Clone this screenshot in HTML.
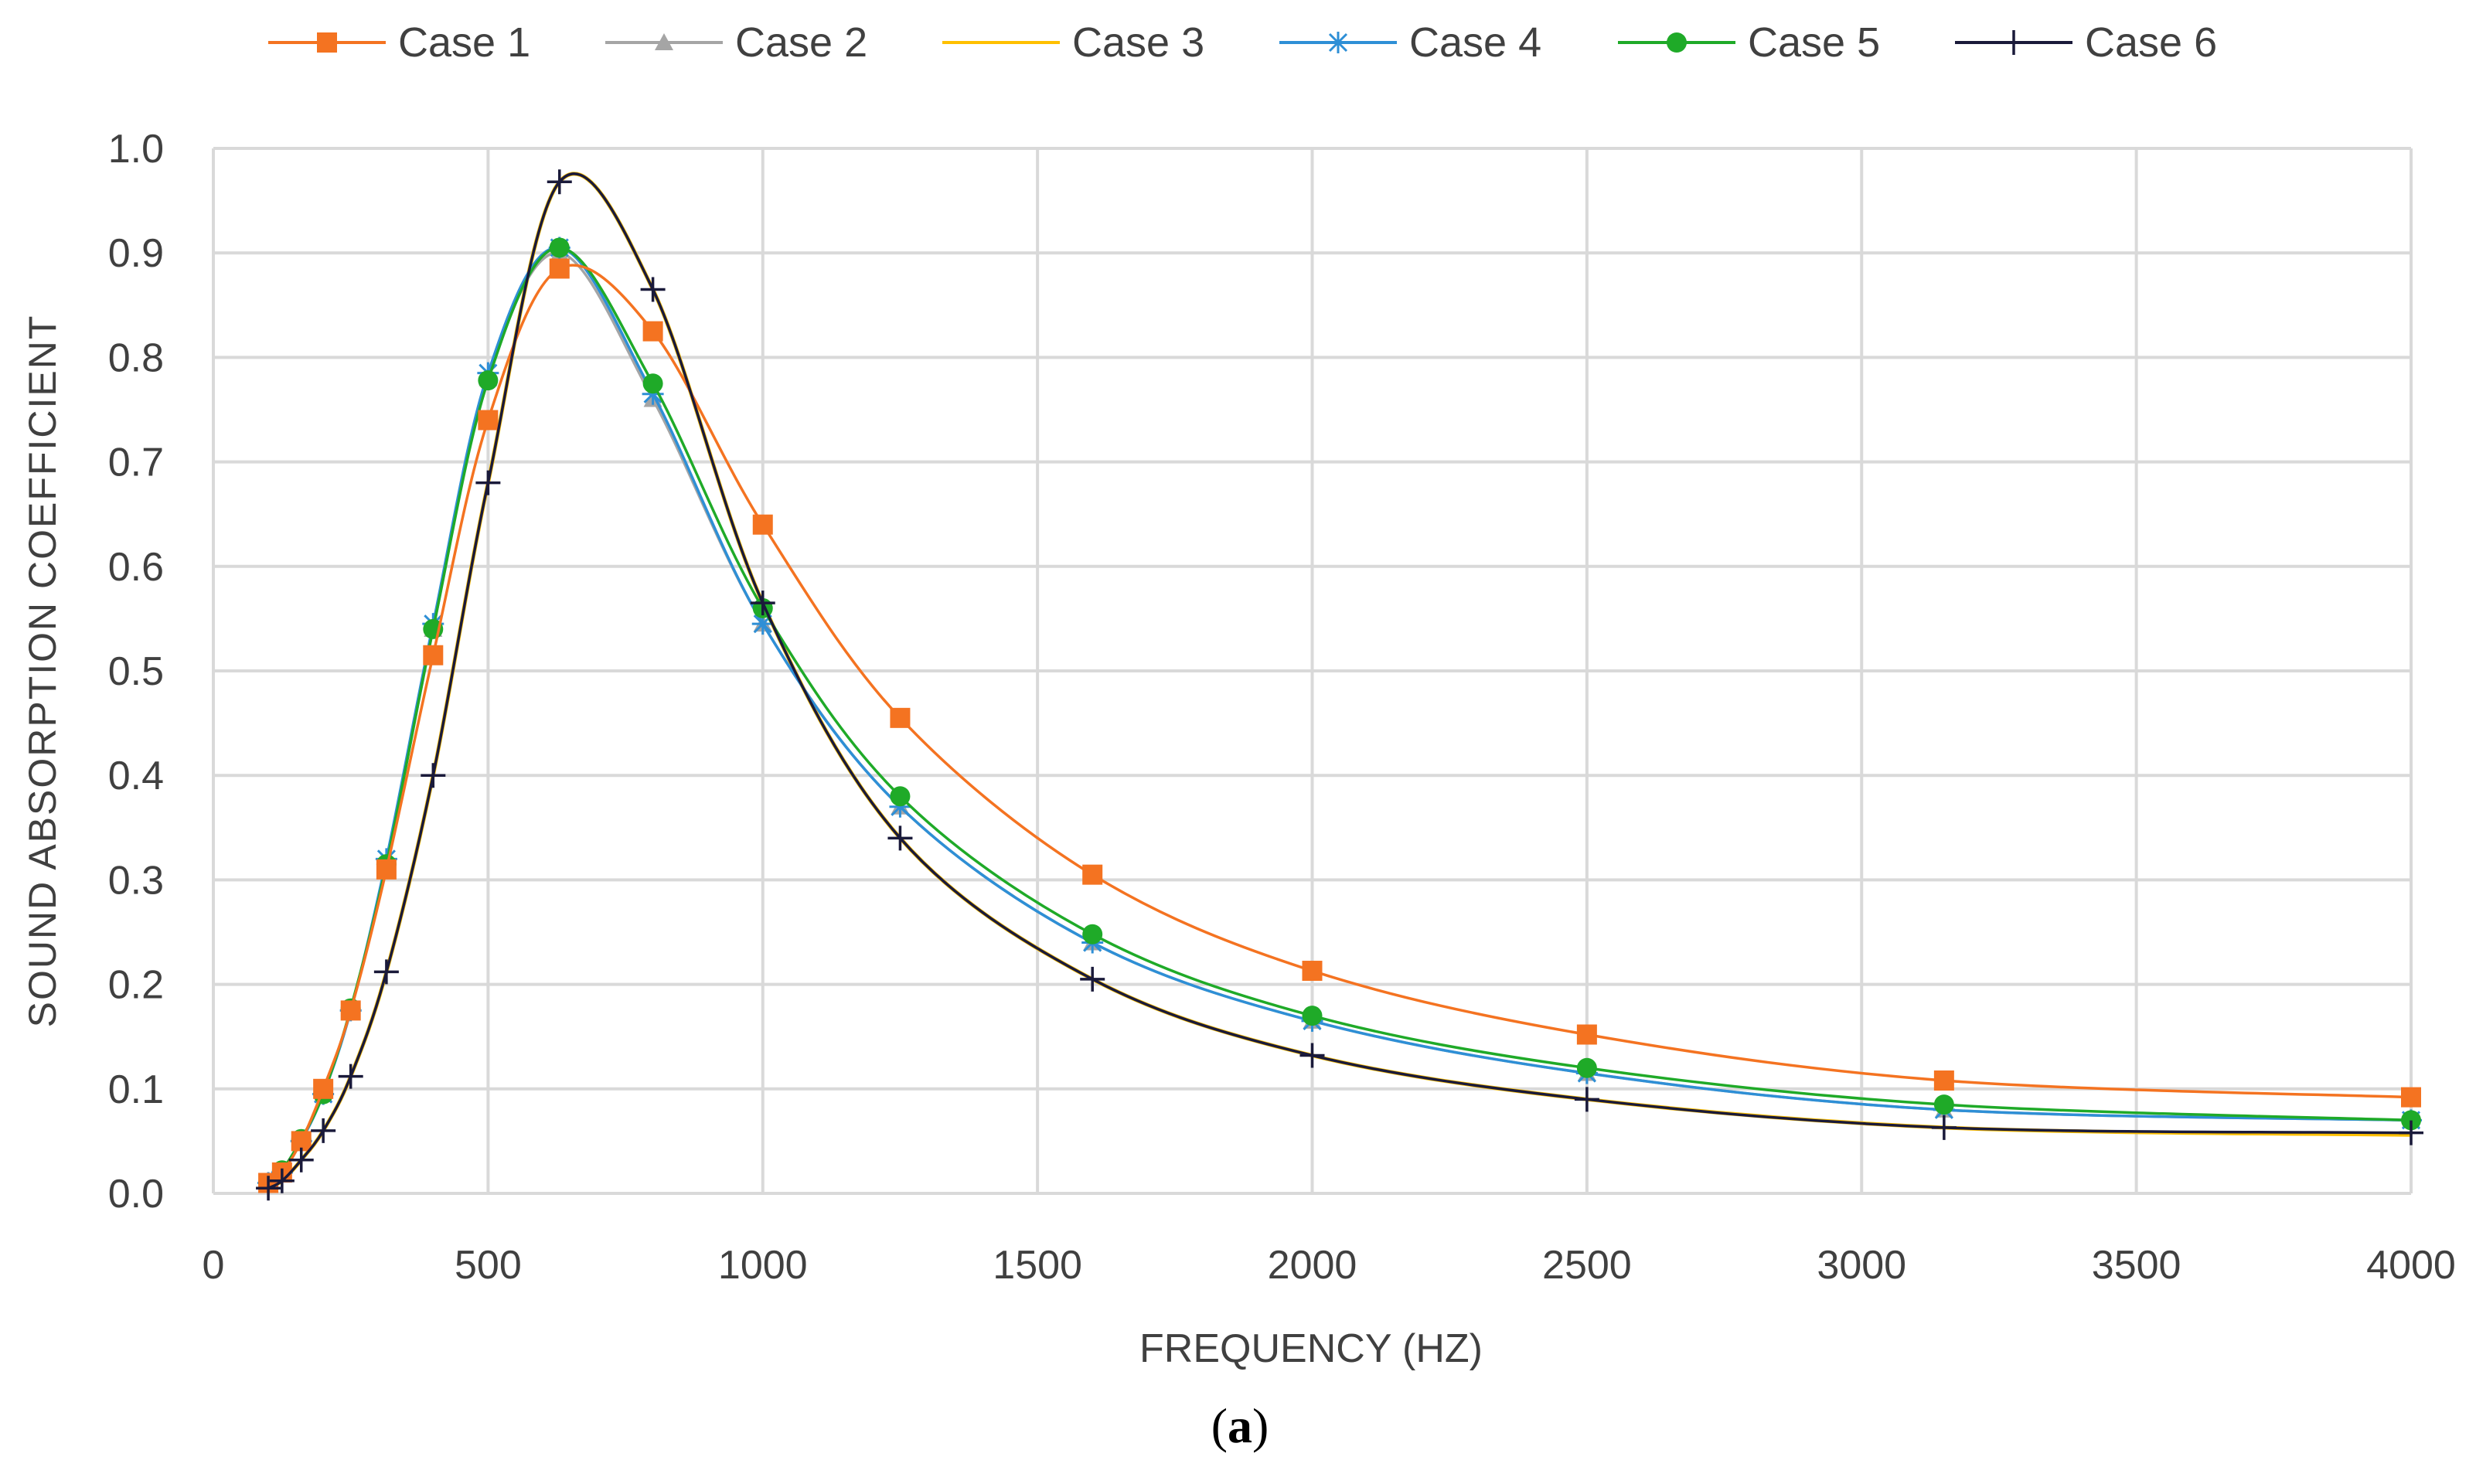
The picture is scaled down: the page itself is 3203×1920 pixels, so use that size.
<!DOCTYPE html>
<html><head><meta charset="utf-8"><style>
html,body{margin:0;padding:0;background:#fff;}
svg{display:block;}
text{font-family:"Liberation Sans","DejaVu Sans",sans-serif;fill:#404040;}
</style></head><body>
<svg id="chart" width="3203" height="1920" viewBox="0 0 3203 1920" xmlns="http://www.w3.org/2000/svg">
<g id="grid"></g>
<g id="series"></g>
<g id="axes"></g>
<g id="legend"></g>
<text x="1696" y="1762" font-size="52" text-anchor="middle">FREQUENCY (HZ)</text>
<text transform="translate(72,868) rotate(-90)" font-size="50" text-anchor="middle" letter-spacing="2">SOUND ABSORPTION COEFFICIENT</text>
<text x="1604" y="1866" font-size="64" text-anchor="middle" style="font-family:'Liberation Serif',serif;fill:#000">(<tspan font-weight="bold">a</tspan>)</text>
</svg>
<script>
const freqs = [100,125,160,200,250,315,400,500,630,800,1000,1250,1600,2000,2500,3150,4000];
const case1 = [0.01,0.02,0.05,0.10,0.175,0.31,0.515,0.74,0.885,0.825,0.64,0.455,0.305,0.213,0.152,0.108,0.092];
const case2 = [0.01,0.02,0.05,0.095,0.175,0.315,0.54,0.78,0.90,0.76,0.545,0.37,0.24,0.165,0.115,0.08,0.07];
const case3 = [0.005,0.012,0.032,0.06,0.112,0.212,0.40,0.68,0.968,0.865,0.565,0.34,0.205,0.132,0.09,0.063,0.056];
const case4 = [0.01,0.02,0.05,0.095,0.175,0.32,0.545,0.785,0.905,0.765,0.545,0.37,0.24,0.165,0.115,0.08,0.07];
const case5 = [0.01,0.022,0.052,0.095,0.177,0.315,0.54,0.778,0.905,0.775,0.56,0.38,0.248,0.17,0.12,0.085,0.07];
const case6 = [0.005,0.012,0.032,0.06,0.112,0.212,0.40,0.68,0.968,0.865,0.565,0.34,0.205,0.132,0.09,0.063,0.058];
const seriesNames = ["Case 1","Case 2","Case 3","Case 4","Case 5","Case 6"];
const xTicks = [0,500,1000,1500,2000,2500,3000,3500,4000];
const yTicks = [0,0.1,0.2,0.3,0.4,0.5,0.6,0.7,0.8,0.9,1.0];

const NS="http://www.w3.org/2000/svg";
const L=276,R=3119,T=192,B=1544;
const xs=v=>L+(v/4000)*(R-L);
const ys=v=>B-(v/1.0)*(B-T);
function mk(tag,attrs,parent){const e=document.createElementNS(NS,tag);for(const k in attrs)e.setAttribute(k,attrs[k]);parent.appendChild(e);return e;}
const grid=document.getElementById('grid'),axes=document.getElementById('axes'),sg=document.getElementById('series'),lg=document.getElementById('legend');

yTicks.forEach(t=>{
  const ln=mk('line',{x1:L,x2:R,y1:ys(t),y2:ys(t),stroke:'#d9d9d9','stroke-width':4},grid);
  
  
  const tx=mk('text',{x:212,y:ys(t)+18,'font-size':52,'text-anchor':'end'},axes);
  tx.textContent=t.toFixed(1);
  
  
});
xTicks.forEach(t=>{
  const ln=mk('line',{x1:xs(t),x2:xs(t),y1:T,y2:B,stroke:'#d9d9d9','stroke-width':4},grid);
  
  
  const tx=mk('text',{x:xs(t),y:1654,'font-size':52,'text-anchor':'middle'},axes);
  tx.textContent=String(t);
  
  
});

function spline(pts){
  let d=`M${pts[0][0]},${pts[0][1]}`;
  for(let i=0;i<pts.length-1;i++){
    const p0=pts[Math.max(0,i-1)],p1=pts[i],p2=pts[i+1],p3=pts[Math.min(pts.length-1,i+2)];
    const c1x=p1[0]+(p2[0]-p0[0])/6,c1y=p1[1]+(p2[1]-p0[1])/6;
    const c2x=p2[0]-(p3[0]-p1[0])/6,c2y=p2[1]-(p3[1]-p1[1])/6;
    d+=` C${c1x},${c1y} ${c2x},${c2y} ${p2[0]},${p2[1]}`;
  }
  return d;
}
function marker(type,x,y,color,parent,s){
  s=s||1;let e;
  if(type==='square') e=mk('rect',{x:x-13*s,y:y-13*s,width:26*s,height:26*s,fill:color},parent);
  else if(type==='triangle') e=mk('polygon',{points:`${x},${y-12*s} ${x+12*s},${y+10*s} ${x-12*s},${y+10*s}`,fill:color},parent);
  else if(type==='circle') e=mk('circle',{cx:x,cy:y,r:13*s,fill:color},parent);
  else if(type==='star'){e=mk('path',{d:`M${x-14*s},${y}H${x+14*s}M${x},${y-14*s}V${y+14*s}M${x-11*s},${y-11*s}L${x+11*s},${y+11*s}M${x-11*s},${y+11*s}L${x+11*s},${y-11*s}`,stroke:color,'stroke-width':3,fill:'none'},parent);}
  else if(type==='plus'){e=mk('path',{d:`M${x-16*s},${y}H${x+16*s}M${x},${y-16*s}V${y+16*s}`,stroke:color,'stroke-width':3.5,fill:'none'},parent);}
  else return null;
  return e;
}
const seriesData=[case1,case2,case3,case4,case5,case6];
const colors=['#f47321','#a5a5a5','#ffc000','#2e8fd6','#1faa28','#1a1a3a'];
const markers=['square','triangle','none','star','circle','plus'];
const order=[2,1,3,4,0,5];
order.forEach(i=>{
  const g=mk('g',{},sg);
  
  
  const pts=freqs.map((f,j)=>[xs(f),ys(seriesData[i][j])]);
  const p=mk('path',{d:spline(pts),fill:'none',stroke:colors[i],'stroke-width':i===2?5:3.5},g);
  
  
  pts.forEach(pt=>{
    const m=marker(markers[i],pt[0],pt[1],colors[i],g);
    if(m){
      
      
    }
  });
});

const legX=[347,783,1219,1655,2093,2529];
seriesNames.forEach((n,i)=>{
  const g=mk('g',{},lg);
  
  
  const x=legX[i],y=55;
  mk('line',{x1:x,x2:x+152,y1:y,y2:y,stroke:colors[i],'stroke-width':4},g);
  marker(markers[i],x+76,y,colors[i],g);
  const t=mk('text',{x:x+168,y:y+18,'font-size':54},g);
  t.textContent=n;
});
</script>
</body></html>
